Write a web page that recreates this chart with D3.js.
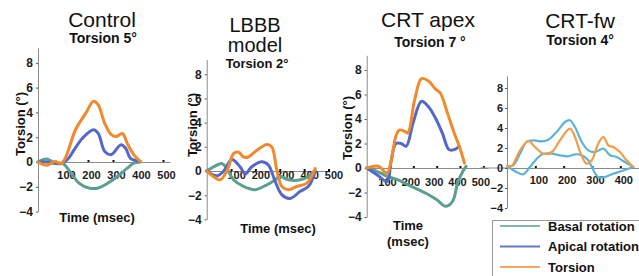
<!DOCTYPE html>
<html>
<head>
<meta charset="utf-8">
<script src="https://cdnjs.cloudflare.com/ajax/libs/d3/7.8.5/d3.min.js"></script>
<style>
  body { margin: 0; background: #fff; }
  svg { display: block; font-family: "Liberation Sans", Arial, sans-serif; }
</style>
</head>
<body>
<script>
'use strict';

// tick labels
let yTicks = [-4, -2, 0, 2, 4, 6, 8];
let xTicks = [100, 200, 300, 400, 500];
let xTicksFw = [100, 200, 300, 400];

// Control: [msec, degrees]
let controlTorsion = [[0,0],[35,-0.27],[67,0.05],[93,-0.13],[112,0.45],[150,2.6],[190,3.9],[222,4.9],[241,4.6],[267,3.1],[293,2.2],[312,2.05],[338,2.3],[357,1.5],[383,0.6],[409,0.05]];
let controlApical = [[0,0],[35,0],[67,-0.1],[93,-0.13],[118,0.2],[145,1.0],[177,1.9],[222,2.6],[241,2.3],[267,0.85],[293,0.6],[332,1.4],[351,1.1],[370,0.3],[409,0.05]];
let controlBasal = [[0,0],[35,0.25],[67,-0.08],[100,-0.13],[132,-0.9],[164,-1.7],[203,-2.1],[241,-2.1],[280,-1.7],[319,-1.15],[357,-0.5],[383,-0.1],[409,0]];

// LBBB model
let lbbbTorsion = [[0,0],[27,-0.46],[55,-0.73],[82,-0.05],[110,1.43],[130,1.57],[151,1.16],[171,1.16],[205,1.7],[247,2.2],[267,2.0],[288,0.08],[308,-1.27],[336,-1.54],[370,-1.27],[411,-1.0],[445,0.2]];
let lbbbApical = [[0,0],[41,-0.4],[68,-0.05],[103,0.95],[137,0.35],[158,-0.24],[185,0.35],[226,0.76],[253,0.5],[281,-0.86],[308,-1.95],[342,-2.27],[384,-1.68],[418,-1.27],[445,-0.05]];
let lbbbBasal = [[0,0],[34,0.4],[62,0.62],[82,0.22],[110,-0.73],[151,-1.27],[199,-1.54],[247,-1.14],[281,-0.73],[301,-0.46],[336,-0.73],[384,-0.73],[418,-0.46],[445,0.08]];

// CRT apex
let apexTorsion = [[0,0],[51,0.14],[74,-0.27],[88,-0.4],[103,0.4],[125,2.6],[140,3.1],[162,3.0],[176,2.86],[206,5.6],[235,7.3],[265,7.1],[294,6.46],[316,6.1],[346,4.5],[375,2.86],[397,1.77],[419,0.4]];
let apexApical = [[0,0],[44,-0.55],[88,-1.1],[103,0.4],[125,2.0],[147,2.0],[169,1.77],[199,3.7],[235,5.45],[265,5.0],[294,4.1],[324,2.86],[353,1.5],[375,1.5],[397,1.77]];
let apexBasal = [[0,0],[44,-0.27],[88,-0.68],[132,-0.95],[176,-1.36],[221,-1.77],[265,-2.18],[301,-2.6],[338,-3.13],[368,-2.72],[390,-1.23],[412,-0.27],[426,0.14]];

// CRT-fw
let fwTorsion = [[0,0.2],[16,0.2],[46,1.77],[75,2.7],[99,2.1],[128,1.43],[158,1.6],[187,2.77],[222,3.93],[240,3.1],[258,1.6],[281,0.43],[299,0.77],[322,2.43],[340,3.1],[358,2.27],[375,2.1],[399,1.6],[422,0.77],[446,0.1]];
let fwUpper = [[0,0.2],[22,0.27],[46,1.43],[69,2.6],[93,2.77],[122,2.67],[146,2.83],[175,3.6],[205,4.6],[222,4.77],[240,4.1],[264,2.6],[287,1.77],[311,1.6],[340,1.93],[364,1.27],[387,1.1],[416,0.6],[446,0.1]];
let fwLower = [[0,0.2],[22,-0.23],[46,-0.57],[58,-0.63],[81,0.1],[105,0.93],[128,1.43],[158,1.43],[187,1.27],[216,1.17],[240,1.37],[264,1.27],[287,0.77],[305,-0.23],[322,-0.9],[346,-0.9],[375,-0.57],[405,-0.3],[428,-0.07],[446,0.1]];

let legendLabels = ['Basal rotation', 'Apical rotation', 'Torsion'];

let colors = { basal: '#5b9f90', apical: '#5468c9', torsion: '#f28a2c', fw: '#5ab4d8', fwTorsion: '#f29c48' };
let legendColors = ['#86b7ad', '#5f78c9', '#f4a667'];

let svg = d3.select('body').append('svg').attr('width', 639).attr('height', 276);

let panels = [
	{ x0: 38, x1: 170, xMin: 0, xMax: 528, y0: 162, pxDeg: 12.4, labelDy: 17, labelDx: 3, ticks: xTicks, yFont: 12, yPad: 3,
	  series: [[controlBasal, colors.basal], [controlApical, colors.apical], [controlTorsion, colors.torsion]], width: 3,
	  titles: [['Control', 102, 27, 21, 'normal'], ['Torsion 5°', 103, 43, 14, 'bold']],
	  ylab: [20, 124], xlab: [['Time (msec)', 97, 222]] },
	{ x0: 206.7, x1: 329, xMin: 0, xMax: 502, y0: 171, pxDeg: 12.1, labelDy: 8, labelDx: 5, ticks: xTicks, yFont: 12, yPad: 3,
	  series: [[lbbbBasal, colors.basal], [lbbbApical, colors.apical], [lbbbTorsion, colors.torsion]], width: 3,
	  titles: [['LBBB', 255, 32, 20, 'normal'], ['model', 255, 52, 20, 'normal'], ['Torsion 2°', 257, 68, 13, 'bold']],
	  ylab: [192, 125], xlab: [['Time (msec)', 278, 233]] },
	{ x0: 366.7, x1: 488, xMin: 0, xMax: 520, y0: 168, pxDeg: 12.25, labelDy: 18, labelDx: -3, ticks: xTicks, yFont: 12, yPad: 3,
	  series: [[apexBasal, colors.basal], [apexApical, colors.apical], [apexTorsion, colors.torsion]], width: 3,
	  titles: [['CRT apex', 428, 27, 21, 'normal'], ['Torsion 7 °', 430, 47, 14, 'bold']],
	  ylab: [347, 128], xlab: [['Time', 408, 230], ['(msec)', 408, 246]] },
	{ x0: 507, x1: 639, xMin: 0, xMax: 466, y0: 168, pxDeg: 10, labelDy: 16, labelDx: 3, ticks: xTicksFw, yFont: 11, yPad: 2, axisStart: 480,
	  series: [[fwLower, colors.fw], [fwUpper, colors.fw], [fwTorsion, colors.fwTorsion]], width: 2.2,
	  titles: [['CRT-fw', 580, 28, 21, 'normal'], ['Torsion 4°', 580, 45, 14, 'bold']],
	  ylab: null, xlab: [] }
];

panels.forEach(function(p) {
	let x = d3.scaleLinear().domain([p.xMin, p.xMax]).range([p.x0, p.x1]);
	let y = d3.scaleLinear().domain([-4, 9.2]).range([p.y0 + 4 * p.pxDeg, p.y0 - 9.2 * p.pxDeg]);

	let g = svg.append('g');

	// x axis line (may extend left of the y axis)
	if (p.axisStart) {
		g.append('line').attr('x1', p.axisStart).attr('x2', p.x0)
			.attr('y1', y(0)).attr('y2', y(0)).attr('stroke', '#8a8a8a').attr('stroke-width', 1);
	}
	let xAxis = d3.axisBottom(x).tickValues(p.ticks).tickSizeInner(-2).tickSizeOuter(0).tickPadding(0);
	let xg = g.append('g').attr('transform', 'translate(0,' + y(0) + ')').call(xAxis);
	xg.select('.domain').attr('stroke', '#8a8a8a');
	xg.selectAll('.tick line').attr('stroke', '#111').attr('stroke-width', 2);
	xg.selectAll('.tick text').attr('y', p.labelDy).attr('dy', 0).attr('dx', p.labelDx)
		.attr('font-size', 11).attr('font-weight', 'bold').attr('fill', '#1a1a1a')
		.attr('font-family', '"Liberation Sans", Arial, sans-serif');

	let yAxis = d3.axisLeft(y).tickValues(yTicks).tickSizeInner(2).tickSizeOuter(0).tickPadding(p.yPad);
	let yg = g.append('g').attr('transform', 'translate(' + x(0) + ',0)').call(yAxis);
	yg.select('.domain').attr('stroke', '#8a8a8a');
	yg.selectAll('.tick line').attr('stroke', '#555');
	yg.selectAll('.tick text').attr('font-size', p.yFont).attr('font-weight', 'bold').attr('fill', '#1a1a1a')
		.attr('font-family', '"Liberation Sans", Arial, sans-serif');

	let line = d3.line()
		.x(function(d) { return x(d[0]); })
		.y(function(d) { return y(d[1]); })
		.curve(d3.curveCatmullRom.alpha(0.5));

	p.series.forEach(function(s) {
		g.append('path')
			.attr('d', line(s[0]))
			.attr('fill', 'none')
			.attr('stroke', s[1])
			.attr('stroke-width', p.width)
			.attr('stroke-linejoin', 'round')
			.attr('stroke-linecap', 'round');
	});

	p.titles.forEach(function(t) {
		g.append('text').text(t[0]).attr('x', t[1]).attr('y', t[2])
			.attr('text-anchor', 'middle').attr('font-size', t[3]).attr('font-weight', t[4]).attr('fill', '#111');
	});

	if (p.ylab) {
		g.append('text').text('Torsion (°)')
			.attr('transform', 'translate(' + p.ylab[0] + ',' + p.ylab[1] + ') rotate(-90)')
			.attr('text-anchor', 'middle').attr('dy', '0.35em')
			.attr('font-size', 13).attr('font-weight', 'bold').attr('fill', '#111');
	}
	p.xlab.forEach(function(t) {
		g.append('text').text(t[0]).attr('x', t[1]).attr('y', t[2])
			.attr('text-anchor', 'middle').attr('font-size', 13).attr('font-weight', 'bold').attr('fill', '#111');
	});
});

// legend
let legend = svg.append('g');
legend.append('rect').attr('x', 492.5).attr('y', 220.5).attr('width', 160).attr('height', 70)
	.attr('fill', '#fff').attr('stroke', '#999').attr('stroke-width', 1);
legendLabels.forEach(function(label, i) {
	let ly = 226 + i * 20.5;
	legend.append('line').attr('x1', 500).attr('x2', 540).attr('y1', ly).attr('y2', ly)
		.attr('stroke', legendColors[i]).attr('stroke-width', 2);
	legend.append('text').text(label).attr('x', 548).attr('y', ly + 4.5)
		.attr('font-size', 13).attr('font-weight', 'bold').attr('fill', '#111');
});
</script>
</body>
</html>
